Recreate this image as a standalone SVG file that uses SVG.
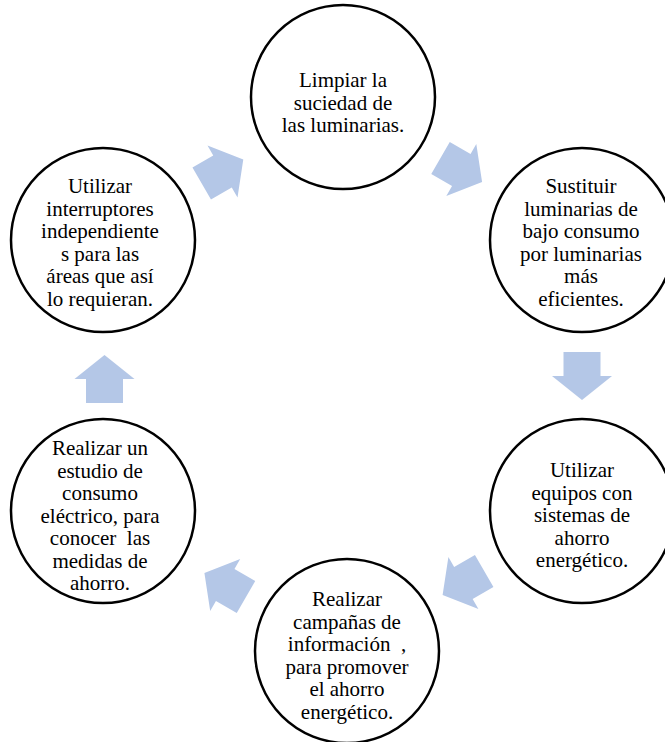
<svg xmlns="http://www.w3.org/2000/svg" width="665" height="742" viewBox="0 0 665 742">
  <style>
    .step { fill: #ffffff; stroke: #000000; stroke-width: 2.5; }
    .label { font-family: "Liberation Serif", "Times New Roman", serif; font-size: 21px; fill: #000000; text-anchor: middle; white-space: pre; }
    .flow { fill: #B4C7E7; }
  </style>
  <defs>
    <!-- block arrow pointing along +x, centred on the origin -->
    <polygon id="blockArrow" points="-24,-18.5 0,-18.5 0,-30 24,0 0,30 0,18.5 -24,18.5"/>
  </defs>

  <g id="connectors">
    <use href="#blockArrow" class="flow" transform="translate(222.5,171.5) rotate(-30)"/>
    <use href="#blockArrow" class="flow" transform="translate(461.3,170) rotate(30)"/>
    <use href="#blockArrow" class="flow" transform="translate(582,376) rotate(90)"/>
    <use href="#blockArrow" class="flow" transform="translate(463.4,583) rotate(150)"/>
    <use href="#blockArrow" class="flow" transform="translate(225.2,585) rotate(210)"/>
    <use href="#blockArrow" class="flow" transform="translate(104.5,379) rotate(-90)"/>
  </g>

  <g id="node-limpiar">
    <circle class="step" cx="343" cy="97" r="92"/>
    <text class="label" x="343" y="87">Limpiar la</text>
    <text class="label" x="343" y="110">suciedad de</text>
    <text class="label" x="343" y="132">las luminarias.</text>
  </g>

  <g id="node-sustituir">
    <circle class="step" cx="582" cy="240" r="92"/>
    <text class="label" x="581" y="193">Sustituir</text>
    <text class="label" x="581" y="215.5">luminarias de</text>
    <text class="label" x="581" y="238">bajo consumo</text>
    <text class="label" x="581" y="260.5">por luminarias</text>
    <text class="label" x="581" y="283">más</text>
    <text class="label" x="581" y="305.5">eficientes.</text>
  </g>

  <g id="node-equipos">
    <circle class="step" cx="582" cy="511" r="92"/>
    <text class="label" x="582" y="477">Utilizar</text>
    <text class="label" x="582" y="499.5">equipos con</text>
    <text class="label" x="582" y="522">sistemas de</text>
    <text class="label" x="582" y="544.5">ahorro</text>
    <text class="label" x="582" y="567">energético.</text>
  </g>

  <g id="node-campanas">
    <circle class="step" cx="347" cy="651" r="92"/>
    <text class="label" x="347" y="606">Realizar</text>
    <text class="label" x="347" y="628.5">campañas de</text>
    <text class="label" x="347" y="651">información  ,</text>
    <text class="label" x="347" y="673.5">para promover</text>
    <text class="label" x="347" y="696">el ahorro</text>
    <text class="label" x="347" y="718.5">energético.</text>
  </g>

  <g id="node-estudio">
    <circle class="step" cx="103" cy="511" r="92"/>
    <text class="label" x="100" y="455">Realizar un</text>
    <text class="label" x="100" y="477.5">estudio de</text>
    <text class="label" x="100" y="500">consumo</text>
    <text class="label" x="100" y="522.5">eléctrico, para</text>
    <text class="label" x="100" y="545">conocer  las</text>
    <text class="label" x="100" y="567.5">medidas de</text>
    <text class="label" x="100" y="590">ahorro.</text>
  </g>

  <g id="node-interruptores">
    <circle class="step" cx="103" cy="240" r="92"/>
    <text class="label" x="100" y="193">Utilizar</text>
    <text class="label" x="100" y="215.5">interruptores</text>
    <text class="label" x="100" y="238">independiente</text>
    <text class="label" x="100" y="260.5">s para las</text>
    <text class="label" x="100" y="283">áreas que así</text>
    <text class="label" x="100" y="305.5">lo requieran.</text>
  </g>
</svg>
